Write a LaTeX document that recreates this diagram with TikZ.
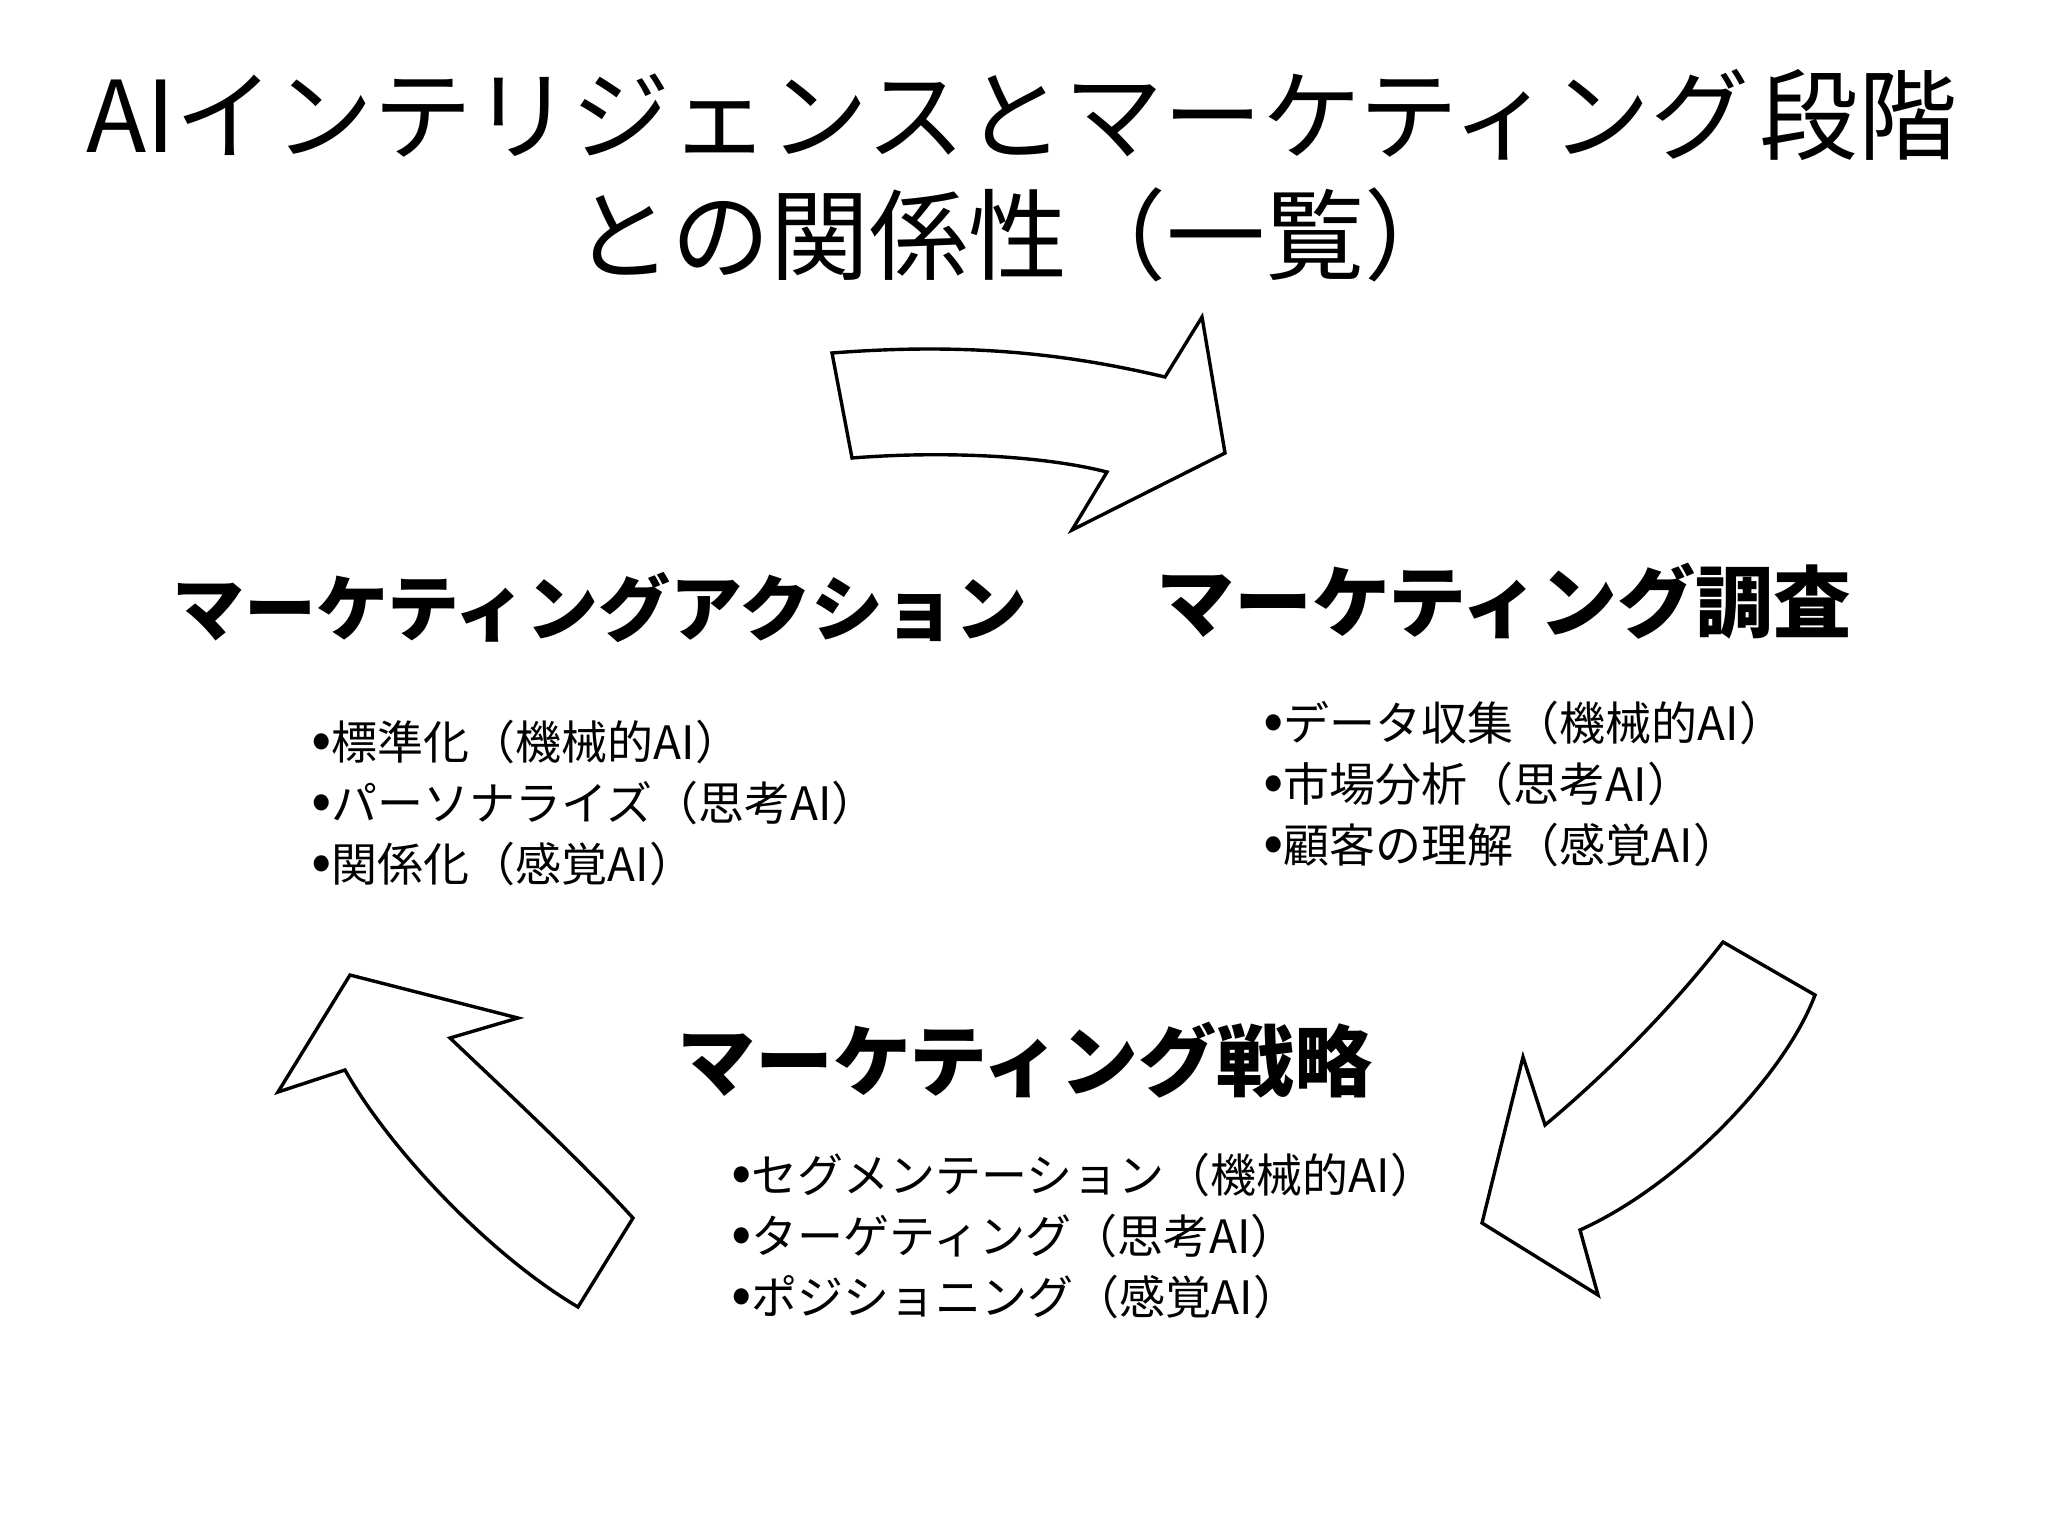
\documentclass[tikz,border=0pt]{standalone}
\usepackage{fontspec}
\newfontfamily\jp{Noto Sans CJK JP}
\newfontfamily\jpblack{Noto Sans CJK JP Black}
\newcommand{\bl}{{\fontsize{30pt}{30pt}\selectfont•}}
\begin{document}
\begin{tikzpicture}[x=0.5pt,y=-0.5pt,
  arrowshape/.style={draw=black,fill=white,line width=1.7pt,line join=miter},
  titletext/.style={font=\jp\fontsize{49.5pt}{60pt}\selectfont,inner sep=0pt},
  headtext/.style={font=\jpblack\fontsize{39pt}{44pt}\selectfont,inner sep=0pt},
  listtext/.style={font=\jp\fontsize{23pt}{30.5pt}\selectfont,inner sep=0pt,anchor=west,align=left}]
\useasboundingbox[fill=white] (0,0) rectangle (2048,1536);
% title
\node[titletext] (t1) at (1022,115) {AIインテリジェンスとマーケティング\hspace{0.1em}段階};
\node[titletext] (t2) at (1018,235) {との関係性（一覧）};
% headings
\node[headtext,font=\jpblack\fontsize{36pt}{44pt}\selectfont] (hA) at (600,607) {マーケティングアクション};
\node[headtext] (hR) at (1504,601) {マーケティング調査};
\node[headtext] (hS) at (1025,1060) {マーケティング戦略};
% lists
\node[listtext] (lA) at (311,803) {\bl 標準化（機械的AI）\\\bl パーソナライズ（思考AI）\\\bl 関係化（感覚AI）};
\node[listtext] (lR) at (1263,784) {\bl データ収集（機械的AI）\\\bl 市場分析（思考AI）\\\bl 顧客の理解（感覚AI）};
\node[listtext] (lS) at (731,1236) {\bl セグメンテーション（機械的AI）\\\bl ターゲティング（思考AI）\\\bl ポジショニング（感覚AI）};
% top arrow
\draw[arrowshape] (832,353) .. controls (960,343) and (1060,352) .. (1165,377)
  -- (1202,317) -- (1225,453) -- (1072,530) -- (1107,472)
  .. controls (1040,455) and (940,451) .. (852,458) -- cycle;
% right arrow
\draw[arrowshape] (1723,942) -- (1815,995)
  .. controls (1785,1075) and (1680,1185) .. (1580,1230)
  -- (1598,1295) -- (1482,1223) -- (1523,1057) -- (1545,1125)
  .. controls (1605,1075) and (1670,1010) .. (1723,942) -- cycle;
% left arrow
\draw[arrowshape] (350,975) -- (518,1018) -- (450,1038)
  .. controls (510,1095) and (580,1160) .. (633,1218)
  -- (578,1307)
  .. controls (490,1255) and (390,1150) .. (345,1070)
  -- (278,1092) -- cycle;
\end{tikzpicture}
\end{document}
